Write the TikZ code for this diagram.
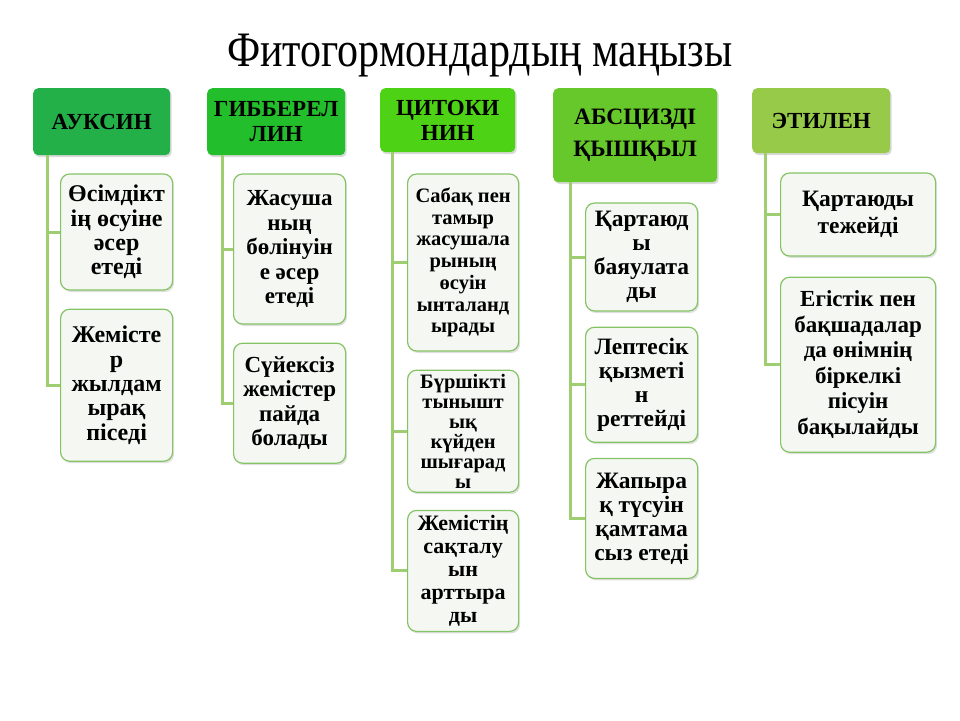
\documentclass[tikz,border=0pt]{standalone}
\usepackage{fontspec}
\setmainfont{Liberation Serif}
\usepackage{xcolor}
\usetikzlibrary{positioning, shadows}

\definecolor{hauxin}{RGB}{36,176,72}
\definecolor{hgibb}{RGB}{34,190,44}
\definecolor{hcyto}{RGB}{78,210,22}
\definecolor{habsc}{RGB}{102,200,42}
\definecolor{heth}{RGB}{150,202,72}
\definecolor{boxline}{RGB}{132,196,100}
\definecolor{boxfill}{RGB}{245,247,243}
\definecolor{linkgreen}{RGB}{158,206,112}

\begin{document}
\begin{tikzpicture}[
    x=1pt, y=-1pt,
    node distance=18pt,
    head/.style={rectangle, rounded corners=5pt, anchor=north west, align=center, inner sep=1pt,
        font=\fontsize{23}{25}\selectfont\bfseries,
        drop shadow={opacity=0.3, shadow xshift=1.5pt, shadow yshift=-2pt}},
    box/.style={draw=boxline, line width=1.2pt, fill=boxfill, rounded corners=9pt, align=center, inner sep=0pt,
        font=\fontsize{24}{24.3}\selectfont\bfseries,
        drop shadow={opacity=0.25, shadow xshift=1.5pt, shadow yshift=-2pt}},
    link/.style={draw=linkgreen, line width=3pt}
]
\useasboundingbox (0,0) rectangle (960,720);

% Тақырып
\node[font=\fontsize{42}{46}\selectfont, anchor=base] (title) at (480,66) {\scalebox{1}[1.18]{Фитогормондардың маңызы}};

% Ауксин
\node[head, fill=hauxin, minimum width=137pt, minimum height=67pt] (auxin) at (33,88) {АУКСИН};
\node[box, minimum width=112pt, minimum height=116pt, below right=18pt and 27pt of auxin.south west] (auxin1) {Өсімдікт\\ің өсуіне\\әсер\\етеді};
\node[box, minimum width=112pt, minimum height=152pt, below=of auxin1] (auxin2) {Жемісте\\р\\жылдам\\ырақ\\піседі};

% Гиббереллин
\node[head, fill=hgibb, minimum width=138pt, minimum height=67pt] (gibb) at (207,88) {ГИББЕРЕЛ\\ЛИН};
\node[box, minimum width=112pt, minimum height=150pt, font=\fontsize{23}{24.5}\selectfont\bfseries,
    below right=18pt and 26pt of gibb.south west] (gibb1) {Жасуша\\ның\\бөлінуін\\е әсер\\етеді};
\node[box, minimum width=112pt, minimum height=120pt, font=\fontsize{23}{24.5}\selectfont\bfseries,
    below=of gibb1] (gibb2) {Сүйексіз\\жемістер\\пайда\\болады};

% Цитокинин
\node[head, fill=hcyto, minimum width=135pt, minimum height=64pt] (cyto) at (380,88) {ЦИТОКИ\\НИН};
\node[box, minimum width=111pt, minimum height=177pt, font=\fontsize{20.5}{21.7}\selectfont\bfseries,
    below right=21pt and 27pt of cyto.south west] (cyto1) {Сабақ пен\\тамыр\\жасушала\\рының\\өсуін\\ынталанд\\ырады};
\node[box, minimum width=111pt, minimum height=122pt, font=\fontsize{20.5}{20}\selectfont\bfseries,
    below=of cyto1] (cyto2) {Бүршікті\\тынышт\\ық\\күйден\\шығарад\\ы};
\node[box, minimum width=111pt, minimum height=121pt, font=\fontsize{22}{23}\selectfont\bfseries,
    below=17pt of cyto2] (cyto3) {Жемістің\\сақталу\\ын\\арттыра\\ды};

% Абсцизді қышқыл
\node[head, fill=habsc, minimum width=164pt, minimum height=94pt, font=\fontsize{23.5}{32}\selectfont\bfseries] (absc) at (553,88) {АБСЦИЗДІ\\ҚЫШҚЫЛ};
\node[box, minimum width=112pt, minimum height=108pt, font=\fontsize{23.5}{24}\selectfont\bfseries,
    below right=20pt and 32pt of absc.south west] (absc1) {Қартаюд\\ы\\баяулата\\ды};
\node[box, minimum width=112pt, minimum height=115pt, font=\fontsize{23.5}{24}\selectfont\bfseries,
    below=15pt of absc1] (absc2) {Лептесік\\қызметі\\н\\реттейді};
\node[box, minimum width=112pt, minimum height=120pt, font=\fontsize{23.5}{24}\selectfont\bfseries,
    below=15pt of absc2] (absc3) {Жапыра\\қ түсуін\\қамтама\\сыз етеді};

% Этилен
\node[head, fill=heth, minimum width=138pt, minimum height=65pt] (eth) at (752,88) {ЭТИЛЕН};
\node[box, minimum width=155pt, minimum height=83pt, font=\fontsize{23.5}{27}\selectfont\bfseries,
    below right=19pt and 28pt of eth.south west] (eth1) {Қартаюды\\тежейді};
\node[box, minimum width=155pt, minimum height=175pt, font=\fontsize{23}{25.5}\selectfont\bfseries,
    below=20pt of eth1] (eth2) {Егістік пен\\бақшадалар\\да өнімнің\\біркелкі\\пісуін\\бақылайды};

% Байланыстар
\draw[link] ([xshift=14pt]auxin.south west) |- (auxin1.west);
\draw[link] ([xshift=14pt]auxin.south west) |- (auxin2.west);
\draw[link] ([xshift=15pt]gibb.south west) |- (gibb1.west);
\draw[link] ([xshift=15pt]gibb.south west) |- (gibb2.west);
\draw[link] ([xshift=12pt]cyto.south west) |- (cyto1.west);
\draw[link] ([xshift=12pt]cyto.south west) |- (cyto2.west);
\draw[link] ([xshift=12pt]cyto.south west) |- (cyto3.west);
\draw[link] ([xshift=17pt]absc.south west) |- (absc1.west);
\draw[link] ([xshift=17pt]absc.south west) |- (absc2.west);
\draw[link] ([xshift=17pt]absc.south west) |- (absc3.west);
\draw[link] ([xshift=13pt]eth.south west) |- (eth1.west);
\draw[link] ([xshift=13pt]eth.south west) |- (eth2.west);

\end{tikzpicture}
\end{document}
